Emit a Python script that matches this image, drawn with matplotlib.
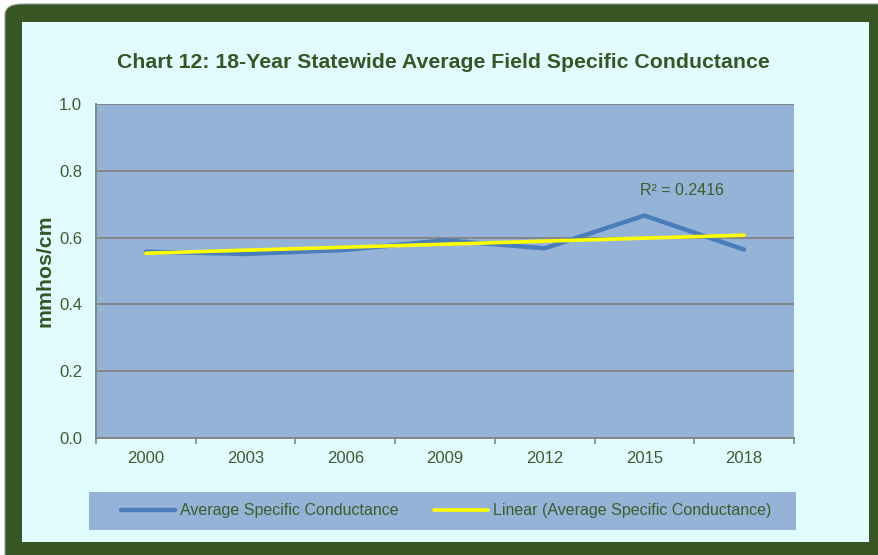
import numpy as np
import matplotlib
matplotlib.use("Agg")
import matplotlib.pyplot as plt
from matplotlib.patches import FancyBboxPatch, Rectangle

plt.rcParams["font.family"] = ["Liberation Sans", "DejaVu Sans"]

years = ["2000", "2003", "2006", "2009", "2012", "2015", "2018"]
conductance = [0.558, 0.551, 0.563, 0.592, 0.568, 0.666, 0.564]
r_squared = "R² = 0.2416"

verde = "#375623"
texto = "#3B5E2B"
fondo = "#E1FCFF"
relleno = "#95B3D7"
azul = "#4A7EBB"
rejilla = "#868686"

W, H = 879, 555
fig = plt.figure(figsize=(W / 100, H / 100), dpi=100)
fig.patch.set_facecolor("white")


def fx(px):
    return px / W


def fy(py):
    return 1 - py / H


# marco verde redondeado y panel interior
fig.patches.append(FancyBboxPatch((fx(5), fy(575)), fx(900), (575 - 4) / H,
                                  boxstyle="round,pad=0,rounding_size=0.02",
                                  transform=fig.transFigure, facecolor=verde,
                                  edgecolor="#9A9A9A", lw=0.8, zorder=-3))
fig.patches.append(Rectangle((fx(22), fy(542)), fx(869 - 22), (542 - 22) / H,
                             transform=fig.transFigure, facecolor=fondo,
                             edgecolor="none", zorder=-2))
# caja de la leyenda
fig.patches.append(Rectangle((fx(89), fy(530)), fx(796 - 89), (530 - 492) / H,
                             transform=fig.transFigure, facecolor=relleno,
                             edgecolor="none", zorder=-1))

ax = fig.add_axes([fx(96), fy(438), fx(794 - 96), (438 - 104) / H])
ax.set_zorder(1)
ax.set_facecolor(relleno)

x = np.arange(len(years))
y = np.array(conductance)
pend, inter = np.polyfit(x, y, 1)
tendencia = pend * x + inter

l1, = ax.plot(x, y, color=azul, lw=3.2, solid_capstyle="round", zorder=3,
              label="Average Specific Conductance")
l2, = ax.plot(x, tendencia, color="#FFFF00", lw=2.6, solid_capstyle="round",
              zorder=4, label="Linear (Average Specific Conductance)")

ax.set_xlim(-0.5, len(years) - 0.5)
ax.set_ylim(0, 1.0)
ax.set_yticks(np.arange(0, 1.01, 0.2))
ax.set_yticklabels([f"{v:.1f}" for v in np.arange(0, 1.01, 0.2)])
ax.set_xticks(x)
ax.set_xticklabels(years)
ax.set_xticks(np.arange(-0.5, len(years), 1), minor=True)
ax.tick_params(axis="x", which="major", length=0, pad=9.5, labelsize=12,
               labelcolor=texto)
ax.tick_params(axis="x", which="minor", length=4, width=1.2, color=rejilla,
               direction="out")
ax.tick_params(axis="y", length=0, pad=10, labelsize=12, labelcolor=texto)
ax.grid(axis="y", color=rejilla, lw=1.4)
ax.set_axisbelow(True)
for lado in ["top", "right"]:
    ax.spines[lado].set_visible(False)
ax.spines["left"].set_color(rejilla)
ax.spines["left"].set_linewidth(1.4)
ax.spines["bottom"].set_color(rejilla)
ax.spines["bottom"].set_linewidth(1.4)

ax.text(5.38, 0.74, r_squared, fontsize=11.5, color=texto, ha="center",
        va="center")

fig.text(fx(443), fy(63), "Chart 12: 18-Year Statewide Average Field Specific Conductance",
         ha="center", va="center", fontsize=15.3, fontweight="bold", color=verde)
fig.text(fx(45), fy(271), "mmhos/cm", rotation=90, ha="center", va="center",
         fontsize=15.3, fontweight="bold", color=verde)

fig.legend(handles=[l1, l2], loc="center", bbox_to_anchor=(fx(446), fy(511)),
           ncol=2, frameon=False, fontsize=11.5, handlelength=3.4,
           handletextpad=0.3, columnspacing=2.2, labelcolor=texto)

fig.savefig("out.png", dpi=100, facecolor=fig.get_facecolor())
